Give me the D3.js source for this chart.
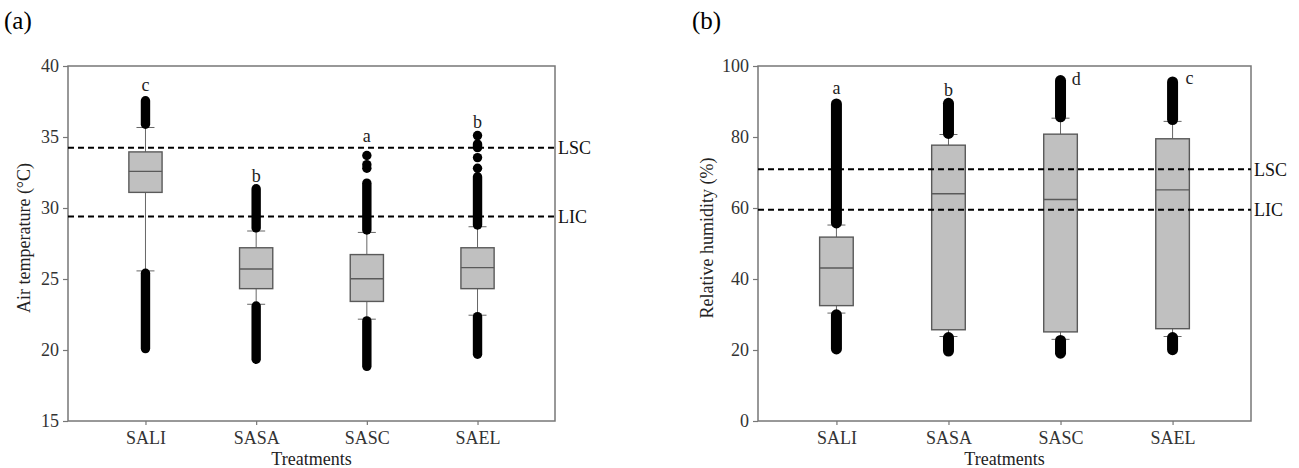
<!DOCTYPE html>
<html>
<head>
<meta charset="utf-8">
<script src="https://cdn.jsdelivr.net/npm/d3@7"></script>
<style>
  body { margin: 0; background: #fff; }
  svg text { font-family: "Liberation Serif", "Times New Roman", serif; }
</style>
</head>
<body>
<svg id="chart" width="1299" height="468"></svg>
<script>
// categories
var treatments = ["SALI", "SASA", "SASC", "SAEL"];

// (a) air temperature
var tempTicks = [15, 20, 25, 30, 35, 40];
var tempQ1 = [31.1, 24.32, 23.42, 24.32];
var tempMedian = [32.58, 25.7, 25.02, 25.8];
var tempQ3 = [33.95, 27.2, 26.72, 27.2];
var tempWhiskerLow = [25.57, 23.22, 22.17, 22.45];
var tempWhiskerHigh = [35.67, 28.38, 28.28, 28.68];
// outliers: [from, to] runs of dots (from == to is a single dot)
var tempOutliers = [
    [[35.9, 37.55], [20.1, 25.4]],
    [[28.6, 31.35], [19.35, 23.1]],
    [[28.45, 31.75], [32.8, 32.8], [33.05, 33.05], [33.7, 33.7], [18.85, 22.05]],
    [[28.8, 32.2], [32.8, 32.8], [33.55, 33.55], [34.25, 34.5], [35.1, 35.1], [19.7, 22.35]]
];
var tempLetters = ["c", "b", "a", "b"];
var tempLetterAt = [38.65, 32.2, 35.05, 36.0];
var tempLetterShift = [0, 0, 0, 0];
var tempLimits = [34.25, 29.4];

// (b) relative humidity
var humTicks = [0, 20, 40, 60, 80, 100];
var humQ1 = [32.5, 25.7, 25.1, 26.0];
var humMedian = [43.1, 64.0, 62.4, 65.1];
var humQ3 = [51.8, 77.7, 80.8, 79.5];
var humWhiskerLow = [30.4, 23.8, 23.0, 23.8];
var humWhiskerHigh = [55.2, 80.7, 85.3, 84.4];
var humOutliers = [
    [[55.8, 89.3], [20.3, 29.9]],
    [[81.0, 89.5], [19.7, 23.5]],
    [[85.7, 95.9], [19.1, 22.7]],
    [[84.9, 95.5], [20.1, 23.5]]
];
var humLetters = ["a", "b", "d", "c"];
var humLetterAt = [93.7, 93.2, 96.2, 96.5];
var humLetterShift = [0, 0, 0.14, 0.15];
var humLimits = [70.9, 59.5];

var limitNames = ["LSC", "LIC"];

var serif = "Liberation Serif, Times New Roman, serif";
var svg = d3.select("#chart");

function drawPanel(p) {
    var g = svg.append("g");

    var x = d3.scaleLinear().domain([0.3, 4.7]).range([p.left, p.right]);
    var y = d3.scaleLinear().domain(p.domain).range([421, 66]);

    var boxW = x(1.3) - x(1);
    var capW = 9;

    // frame
    g.append("rect")
        .attr("x", p.left).attr("y", 66)
        .attr("width", p.right - p.left).attr("height", 421 - 66)
        .attr("fill", "none").attr("stroke", "#777").attr("stroke-width", 1.5);

    // axes
    var yAxis = d3.axisLeft(y).tickValues(p.ticks).tickSize(5).tickPadding(4);
    var ya = g.append("g").attr("transform", "translate(" + p.left + ",0)").call(yAxis);
    var xAxis = d3.axisBottom(x).tickValues([1, 2, 3, 4]).tickSize(4).tickPadding(6)
        .tickFormat(function (d) { return treatments[d - 1]; });
    var xa = g.append("g").attr("transform", "translate(0,421)").call(xAxis);
    [ya, xa].forEach(function (a) {
        a.attr("font-family", serif).attr("font-size", 18);
        a.select(".domain").remove();
        a.selectAll("line").attr("stroke", "#777").attr("stroke-width", 1.2);
        a.selectAll("text").attr("fill", "#333");
    });

    var idx = d3.range(treatments.length);

    // whiskers
    var w = g.append("g").attr("stroke", "#666").attr("stroke-width", 1);
    idx.forEach(function (i) {
        var cx = x(i + 1);
        w.append("line").attr("x1", cx).attr("x2", cx)
            .attr("y1", y(p.q3[i])).attr("y2", y(p.hi[i]));
        w.append("line").attr("x1", cx).attr("x2", cx)
            .attr("y1", y(p.q1[i])).attr("y2", y(p.lo[i]));
        w.append("line").attr("x1", cx - capW).attr("x2", cx + capW)
            .attr("y1", y(p.hi[i])).attr("y2", y(p.hi[i]));
        w.append("line").attr("x1", cx - capW).attr("x2", cx + capW)
            .attr("y1", y(p.lo[i])).attr("y2", y(p.lo[i]));
    });

    // boxes
    g.selectAll(".box").data(idx).enter().append("rect")
        .attr("class", "box")
        .attr("x", function (i) { return x(i + 1) - boxW / 2; })
        .attr("y", function (i) { return y(p.q3[i]); })
        .attr("width", boxW)
        .attr("height", function (i) { return y(p.q1[i]) - y(p.q3[i]); })
        .attr("fill", "#c0c0c0").attr("stroke", "#5a5a5a").attr("stroke-width", 1.4);

    g.selectAll(".med").data(idx).enter().append("line")
        .attr("class", "med")
        .attr("x1", function (i) { return x(i + 1) - boxW / 2; })
        .attr("x2", function (i) { return x(i + 1) + boxW / 2; })
        .attr("y1", function (i) { return y(p.med[i]); })
        .attr("y2", function (i) { return y(p.med[i]); })
        .attr("stroke", "#5a5a5a").attr("stroke-width", 1.4);

    // outlier dots (runs drawn as stacked dots)
    idx.forEach(function (i) {
        var cx = x(i + 1);
        g.selectAll(null).data(p.out[i]).enter().append("line")
            .attr("x1", cx).attr("x2", cx)
            .attr("y1", function (d) { return y(d[0]); })
            .attr("y2", function (d) { return y(d[1]) - 0.01; })
            .attr("stroke", "#000")
            .attr("stroke-width", p.dotR * 2)
            .attr("stroke-linecap", "round");
    });

    // significance letters
    g.selectAll(".letter").data(idx).enter().append("text")
        .attr("class", "letter")
        .attr("x", function (i) { return x(i + 1 + p.letterShift[i]); })
        .attr("y", function (i) { return y(p.letterAt[i]); })
        .attr("dy", "0.3em")
        .attr("text-anchor", "middle")
        .style("font-size", "18px").attr("fill", "#222")
        .text(function (i) { return p.letters[i]; });

    // limit lines
    g.selectAll(".limit").data(p.limits).enter().append("line")
        .attr("x1", p.left).attr("x2", p.right)
        .attr("y1", function (d) { return y(d); })
        .attr("y2", function (d) { return y(d); })
        .attr("stroke", "#000").attr("stroke-width", 2)
        .attr("stroke-dasharray", "6,4");
    g.selectAll(".limitLabel").data(p.limits).enter().append("text")
        .attr("x", p.right + 3)
        .attr("y", function (d) { return y(d); })
        .attr("dy", "0.35em")
        .style("font-size", "18px").attr("fill", "#111")
        .text(function (d, i) { return limitNames[i]; });

    // titles
    g.append("text")
        .attr("transform", "translate(" + p.titleX + "," + 238 + ") rotate(-90)")
        .attr("text-anchor", "middle")
        .style("font-size", "18px").attr("fill", "#222")
        .text(p.title);
    g.append("text")
        .attr("x", (p.left + p.right) / 2).attr("y", 465)
        .attr("text-anchor", "middle")
        .style("font-size", "18px").attr("fill", "#222")
        .text("Treatments");
    g.append("text")
        .attr("x", p.tagX).attr("y", 29)
        .style("font-size", "25px").attr("fill", "#000")
        .text(p.tag);
}

drawPanel({
    left: 68, right: 555, domain: [15, 40], ticks: tempTicks,
    q1: tempQ1, med: tempMedian, q3: tempQ3, lo: tempWhiskerLow, hi: tempWhiskerHigh,
    out: tempOutliers, dotR: 4.7,
    letters: tempLetters, letterAt: tempLetterAt, letterShift: tempLetterShift,
    limits: tempLimits, title: "Air temperature (\u00B0C)", titleX: 30,
    tag: "(a)", tagX: 4
});

drawPanel({
    left: 758, right: 1251, domain: [0, 100], ticks: humTicks,
    q1: humQ1, med: humMedian, q3: humQ3, lo: humWhiskerLow, hi: humWhiskerHigh,
    out: humOutliers, dotR: 5.5,
    letters: humLetters, letterAt: humLetterAt, letterShift: humLetterShift,
    limits: humLimits, title: "Relative humidity (%)", titleX: 713,
    tag: "(b)", tagX: 692
});
</script>
</body>
</html>
